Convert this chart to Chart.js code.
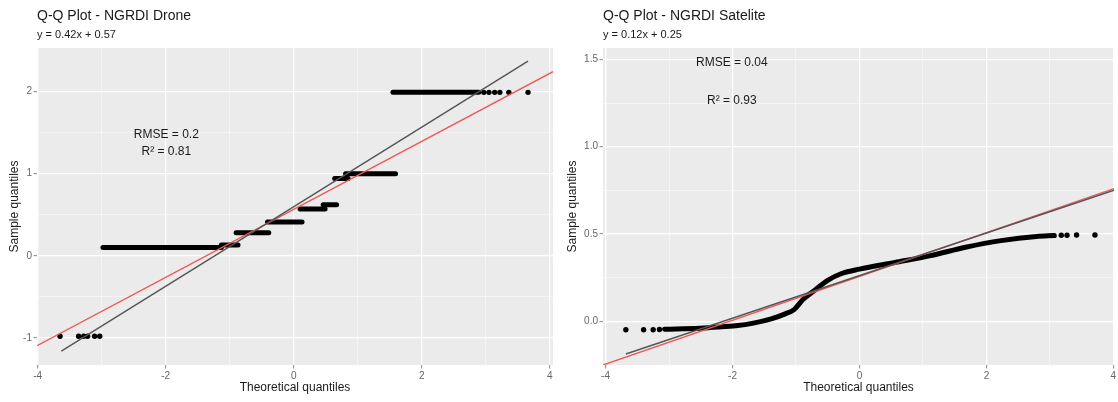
<!DOCTYPE html>
<html>
<head>
<meta charset="utf-8">
<script src="https://cdn.jsdelivr.net/npm/chart.js@4.4.1/dist/chart.umd.min.js"></script>
<style>
  body { margin: 0; background: #fff; }
  .wrap { display: flex; width: 1118px; height: 402px; }
  .wrap div { width: 559px; height: 402px; }
</style>
</head>
<body>
<div class="wrap">
  <div><canvas id="drone" width="559" height="402"></canvas></div>
  <div><canvas id="sat" width="559" height="402"></canvas></div>
</div>
<script>
// ---- Drone panel ----
// horizontal runs of tied sample values (drawn as thick runs of overlapping dots)
const droneStepY    = [0.10, 0.13, 0.28, 0.41, 0.57, 0.62, 0.94, 1.00, 1.99];
const droneStepFrom = [-2.98, -1.13, -0.90, -0.41, 0.10, 0.46, 0.64, 0.81, 1.55];
const droneStepTo   = [-1.13, -0.87, -0.39, 0.13, 0.49, 0.67, 0.85, 1.59, 2.89];
// isolated points
const droneDotX = [-3.65, -3.36, -3.28, -3.22, -3.11, -3.03, 2.97, 3.05, 3.14, 3.22, 3.36, 3.66];
const droneDotY = [-0.98, -0.98, -0.98, -0.98, -0.98, -0.98, 1.99, 1.99, 1.99, 1.99, 1.99, 1.99];
// lines
const droneFitX = [-4.01, 4.05];
const droneFitY = [-1.095, 2.242];
const droneRefX = [-3.63, 3.66];
const droneRefY = [-1.16, 2.37];
const droneNotes = ['RMSE = 0.2', 'R\u00b2 = 0.81'];
const droneNoteX = [-1.99, -1.99];
const droneNoteY = [1.47, 1.27];

// ---- Satelite panel ----
const satCurveX = [-3.07, -2.51, -2.23, -1.95, -1.67, -1.39, -1.17, -1.03, -0.89, -0.72, -0.50, -0.28, 0.00, 0.56, 1.12, 1.67, 2.23, 2.79, 3.07];
const satCurveY = [-0.045, -0.039, -0.033, -0.025, -0.010, 0.014, 0.043, 0.067, 0.125, 0.174, 0.235, 0.274, 0.299, 0.337, 0.376, 0.424, 0.462, 0.486, 0.491];
const satDotX = [-3.68, -3.40, -3.25, -3.15, 3.18, 3.27, 3.42, 3.71];
const satDotY = [-0.048, -0.048, -0.048, -0.047, 0.493, 0.493, 0.494, 0.494];
const satFitX = [-4.04, 4.01];
const satFitY = [-0.25, 0.76];
const satRefX = [-3.68, 4.01];
const satRefY = [-0.187, 0.751];
const satNotes = ['RMSE = 0.04', 'R\u00b2 = 0.93'];
const satNoteX = [-2.01, -2.01];
const satNoteY = [1.48, 1.265];

const xTicks = [-4, -3, -2, -1, 0, 1, 2, 3, 4];
const xMajor = [-4, -2, 0, 2, 4];

const FONT = "'Liberation Sans', Arial, sans-serif";
const RED = '#ee5656';
const GREY_LINE = '#555555';

function pts(xs, ys) {
  return xs.map((x, i) => ({ x: x, y: ys[i] }));
}

const panelBg = {
  id: 'panelBg',
  beforeDraw(chart) {
    const a = chart.chartArea, ctx = chart.ctx;
    ctx.save();
    ctx.fillStyle = '#ebebeb';
    ctx.fillRect(a.left, a.top, a.right - a.left, a.bottom - a.top);
    ctx.restore();
  }
};

const notes = {
  id: 'notes',
  afterDatasetsDraw(chart, args, opts) {
    const ctx = chart.ctx;
    ctx.save();
    ctx.font = '12px ' + FONT;
    ctx.fillStyle = '#1a1a1a';
    ctx.textAlign = 'center';
    ctx.textBaseline = 'middle';
    opts.text.forEach((t, i) => {
      ctx.fillText(t, chart.scales.x.getPixelForValue(opts.x[i]), chart.scales.y.getPixelForValue(opts.y[i]));
    });
    ctx.restore();
  }
};

function makeChart(id, cfg) {
  const datasets = [
    { type: 'line', data: pts(cfg.refX, cfg.refY), borderColor: GREY_LINE, borderWidth: 1.4, pointRadius: 0, showLine: true },
    { type: 'line', data: pts(cfg.fitX, cfg.fitY), borderColor: RED, borderWidth: 1.4, pointRadius: 0, showLine: true }
  ].concat(cfg.marks, [
    { data: pts(cfg.dotX, cfg.dotY), backgroundColor: '#000', borderWidth: 0, pointRadius: 2.7 }
  ]);

  return new Chart(document.getElementById(id), {
    type: 'scatter',
    data: { datasets: datasets },
    plugins: [panelBg, notes],
    options: {
      responsive: false,
      animation: false,
      layout: { padding: { top: 0, right: cfg.padRight, bottom: 0, left: 0 } },
      plugins: {
        legend: { display: false },
        tooltip: { enabled: false },
        title: {
          display: true, text: cfg.title, align: 'start', fullSize: false,
          color: '#1a1a1a', font: { family: FONT, size: 14, weight: 'normal' },
          padding: { top: 8, bottom: 2 }
        },
        subtitle: {
          display: true, text: cfg.subtitle, align: 'start', fullSize: false,
          color: '#1a1a1a', font: { family: FONT, size: 11 },
          padding: { top: 2, bottom: 6 }
        },
        notes: { text: cfg.notes, x: cfg.noteX, y: cfg.noteY }
      },
      scales: {
        x: {
          type: 'linear', min: cfg.xMin, max: cfg.xMax,
          afterBuildTicks: s => { s.ticks = xTicks.map(v => ({ value: v })); },
          afterFit: s => { s.height = 37; s.paddingLeft = 0; s.paddingRight = 0; },
          border: { display: false },
          grid: {
            color: c => xMajor.includes(c.tick.value) ? '#ffffff' : 'rgba(255,255,255,0.75)',
            lineWidth: c => xMajor.includes(c.tick.value) ? 1.3 : 0.6,
            tickColor: c => xMajor.includes(c.tick.value) ? '#888' : 'rgba(0,0,0,0)',
            tickLength: 3.5, tickWidth: 1
          },
          ticks: {
            autoSkip: false, maxRotation: 0, padding: 2,
            color: '#666', font: { family: FONT, size: 10 },
            callback: v => xMajor.includes(v) ? String(v) : ''
          },
          title: {
            display: true, text: 'Theoretical quantiles', color: '#1a1a1a',
            font: { family: FONT, size: 12 }, padding: { top: 0, bottom: 7.4 }
          }
        },
        y: {
          type: 'linear', min: cfg.yMin, max: cfg.yMax,
          afterBuildTicks: s => { s.ticks = cfg.yTicks.map(v => ({ value: v })); },
          afterFit: s => { s.width = cfg.yWidth; s.paddingTop = 0; s.paddingBottom = 0; },
          border: { display: false },
          grid: {
            color: c => cfg.yMajor.includes(c.tick.value) ? '#ffffff' : 'rgba(255,255,255,0.75)',
            lineWidth: c => cfg.yMajor.includes(c.tick.value) ? 1.3 : 0.6,
            tickColor: c => cfg.yMajor.includes(c.tick.value) ? '#888' : 'rgba(0,0,0,0)',
            tickLength: 3.5, tickWidth: 1
          },
          ticks: {
            autoSkip: false, padding: 1.5,
            color: '#666', font: { family: FONT, size: 10 },
            callback: v => cfg.yMajor.includes(v) ? v.toFixed(cfg.yDigits) : ''
          },
          title: {
            display: true, text: 'Sample quantiles', color: '#1a1a1a',
            font: { family: FONT, size: 12 }, padding: { top: cfg.yTitlePad, bottom: 0 }
          }
        }
      }
    }
  });
}

// thick runs for the drone ties
const droneMarks = droneStepY.map((y, i) => ({
  type: 'line', data: pts([droneStepFrom[i], droneStepTo[i]], [y, y]),
  borderColor: '#000', borderWidth: 5, borderCapStyle: 'round', pointRadius: 0, showLine: true
}));

// dense point cloud of the satelite sample, drawn as a thick smooth run
const satMarks = [{
  type: 'line', data: pts(satCurveX, satCurveY),
  borderColor: '#000', borderWidth: 5, borderCapStyle: 'round', borderJoinStyle: 'round',
  cubicInterpolationMode: 'monotone', pointRadius: 0, showLine: true
}];

makeChart('drone', {
  title: 'Q-Q Plot - NGRDI Drone', subtitle: 'y = 0.42x + 0.57',
  xMin: -4.01, xMax: 4.05, yMin: -1.33, yMax: 2.53,
  yTicks: [-1, -0.5, 0, 0.5, 1, 1.5, 2], yMajor: [-1, 0, 1, 2], yDigits: 0,
  yWidth: 37, yTitlePad: 7.4, padRight: 6,
  refX: droneRefX, refY: droneRefY, fitX: droneFitX, fitY: droneFitY,
  dotX: droneDotX, dotY: droneDotY, marks: droneMarks,
  notes: droneNotes, noteX: droneNoteX, noteY: droneNoteY
});

makeChart('sat', {
  title: 'Q-Q Plot - NGRDI Satelite', subtitle: 'y = 0.12x + 0.25',
  xMin: -4.04, xMax: 4.01, yMin: -0.25, yMax: 1.565,
  yTicks: [0, 0.25, 0.5, 0.75, 1, 1.25, 1.5], yMajor: [0, 0.5, 1, 1.5], yDigits: 1,
  yWidth: 44, yTitlePad: 6.4, padRight: 0,
  refX: satRefX, refY: satRefY, fitX: satFitX, fitY: satFitY,
  dotX: satDotX, dotY: satDotY, marks: satMarks,
  notes: satNotes, noteX: satNoteX, noteY: satNoteY
});
</script>
</body>
</html>
